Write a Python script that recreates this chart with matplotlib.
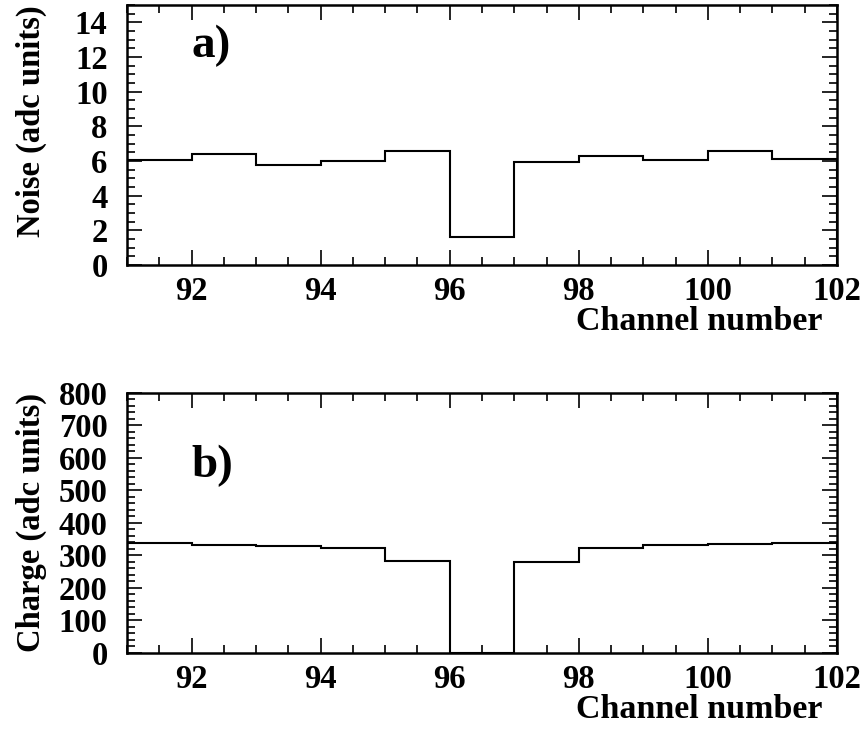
import numpy as np
import matplotlib
matplotlib.use('Agg')
import matplotlib.pyplot as plt
from matplotlib.ticker import MultipleLocator

plt.rcParams['font.family'] = ['Liberation Serif', 'DejaVu Serif']
plt.rcParams['font.weight'] = 'bold'

# bin edges (channel numbers) and per-channel values
edges = [91, 92, 93, 94, 95, 96, 97, 98, 99, 100, 101, 102]
noise = [6.05, 6.42, 5.74, 5.98, 6.56, 1.64, 5.94, 6.30, 6.07, 6.56, 6.09]
charge = [337, 332, 328, 322, 283, 0, 281, 322, 332, 334, 337]

fig = plt.figure(figsize=(8.61, 7.29), dpi=100)
ax1 = fig.add_axes([0.1475, 0.6365, 0.8246, 0.3567])
ax2 = fig.add_axes([0.1475, 0.1043, 0.8246, 0.3567])

def style(ax, ymax, ymaj, ymin, ylabel):
    ax.set_xlim(91, 102)
    ax.set_ylim(0, ymax)
    ax.xaxis.set_major_locator(MultipleLocator(2))
    ax.xaxis.set_minor_locator(MultipleLocator(0.5))
    ax.yaxis.set_major_locator(MultipleLocator(ymaj))
    ax.yaxis.set_minor_locator(MultipleLocator(ymin))
    ax.tick_params(which='both', direction='in', top=True, right=True,
                   labelsize=23.5, width=1.2, color='black')
    ax.tick_params(which='major', length=11)
    ax.tick_params(which='minor', length=6)
    ax.tick_params(axis='x', pad=8)
    ax.tick_params(axis='y', pad=14)
    for s in ax.spines.values():
        s.set_linewidth(1.8)
    ax.set_xlabel('Channel number', fontsize=24.5, fontweight='bold', loc='right')
    ax.xaxis.set_label_coords(0.979, -0.158)
    ax.xaxis.label.set_va('top')
    ax.set_ylabel(ylabel, fontsize=23.5, fontweight='bold', loc='top')
    ax.yaxis.set_label_coords(-0.112, 1.0)
    for lab in ax.get_xticklabels() + ax.get_yticklabels():
        lab.set_fontweight('bold')

ax1.stairs(noise, edges, color='black', linewidth=1.5)
style(ax1, 15, 2, 0.5, 'Noise (adc units)')
ax1.set_yticks([0, 2, 4, 6, 8, 10, 12, 14])
ax1.text(92.0, 12.0, 'a)', fontsize=34, fontweight='bold')

ax2.stairs(charge, edges, color='black', linewidth=1.5)
style(ax2, 800, 100, 20, 'Charge (adc units)')
ax2.text(92.0, 540, 'b)', fontsize=34, fontweight='bold')

fig.savefig('out.png', dpi=100)
